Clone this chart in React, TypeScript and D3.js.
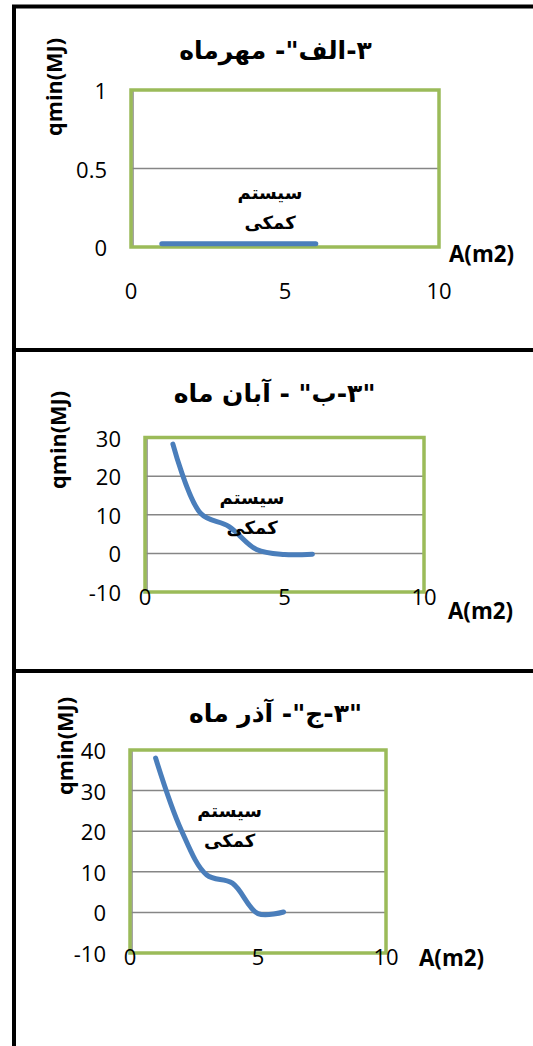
import React from "react";
import * as d3 from "d3";

// ---------- data ----------
const areaValues = [1, 2, 3, 4, 5, 6];
const mehrValues = [0.02, 0.02, 0.02, 0.02, 0.02, 0.02];
const abanValues = [28.3, 10.3, 7.0, 1.0, -0.3, -0.2];
const azarValues = [38, 20.3, 9.2, 7.2, -0.3, 0.1];

const xTickValues = [0, 5, 10];
const mehrYTicks = [0, 0.5, 1];
const abanYTicks = [-10, 0, 10, 20, 30];
const azarYTicks = [-10, 0, 10, 20, 30, 40];

const titles = ['۳-الف"- مهرماه', '"۳-ب" - آبان ماه', '"۳-ج"- آذر ماه'];
const annotationLines = ["سیستم", "کمکی"];
const yAxisTitle = "qmin(MJ)";
const xAxisTitle = "A(m2)";

const GREEN = "#9BBB59";
const BLUE = "#4A7EBB";
const GRID = "#868686";
const LATIN = "'Open Sans', sans-serif";
const ARABIC = "'DejaVu Sans', sans-serif";

type PanelProps = {
  id: string;
  ys: number[];
  yTicks: number[];
  title: string;
  box: { x0: number; x1: number; y0: number; y1: number };
  titlePos: [number, number];
  yTitlePos: [number, number];
  xLabelY: number;
  xTitlePos: [number, number];
  annPos: [number, number];
};

function Panel(p: PanelProps) {
  const { box } = p;
  const x = d3.scaleLinear().domain([0, 10]).range([box.x0, box.x1]);
  const y = d3
    .scaleLinear()
    .domain([p.yTicks[0], p.yTicks[p.yTicks.length - 1]])
    .range([box.y1, box.y0]);
  const line = d3
    .line<number>()
    .x((_, i) => x(areaValues[i]))
    .y((v) => y(v))
    .curve(d3.curveCatmullRom.alpha(0.5));
  const d = line(p.ys) || "";
  const clipId = "clip-" + p.id;
  return (
    <g>
      <defs>
        <clipPath id={clipId}>
          <rect x={box.x0 - 10} y={box.y0 - 10} width={box.x1 - box.x0 + 20} height={box.y1 - box.y0 + 10} />
        </clipPath>
      </defs>
      <text
        x={p.titlePos[0]}
        y={p.titlePos[1]}
        textAnchor="middle"
        dominantBaseline="central"
        direction="rtl"
        fontFamily={ARABIC}
        fontWeight="bold"
        fontSize={25}
      >
        {p.title}
      </text>
      <text
        transform={`translate(${p.yTitlePos[0]},${p.yTitlePos[1]}) rotate(-90)`}
        textAnchor="middle"
        dominantBaseline="central"
        fontFamily={LATIN}
        fontWeight="bold"
        fontSize={21}
        textLength={98}
        lengthAdjust="spacingAndGlyphs"
      >
        {yAxisTitle}
      </text>
      {/* gridlines */}
      {p.yTicks.map((t) => (
        <line key={"g" + t} x1={box.x0} x2={box.x1} y1={y(t)} y2={y(t)} stroke={GRID} strokeWidth={1.5} />
      ))}
      <line x1={box.x0 + 2} x2={box.x0 + 2} y1={box.y0} y2={box.y1} stroke={GRID} strokeWidth={1.5} />
      {/* plot border */}
      <rect
        x={box.x0}
        y={box.y0}
        width={box.x1 - box.x0}
        height={box.y1 - box.y0}
        fill="none"
        stroke={GREEN}
        strokeWidth={3.5}
      />
      {/* series */}
      <path
        d={d}
        fill="none"
        stroke={BLUE}
        strokeWidth={5}
        strokeLinecap="round"
        strokeLinejoin="round"
        clipPath={`url(#${clipId})`}
      />
      {/* y tick labels */}
      {p.yTicks.map((t) => (
        <text
          key={"y" + t}
          x={box.x0 - 24}
          y={y(t)}
          textAnchor="end"
          dominantBaseline="central"
          fontFamily={LATIN}
          fontSize={22}
        >
          {String(t)}
        </text>
      ))}
      {/* x tick labels */}
      {xTickValues.map((t) => (
        <text
          key={"x" + t}
          x={x(t)}
          y={p.xLabelY}
          textAnchor="middle"
          dominantBaseline="central"
          fontFamily={LATIN}
          fontSize={22}
        >
          {String(t)}
        </text>
      ))}
      <text
        x={p.xTitlePos[0]}
        y={p.xTitlePos[1]}
        dominantBaseline="central"
        fontFamily={LATIN}
        fontWeight="bold"
        fontSize={24}
        textLength={65}
        lengthAdjust="spacingAndGlyphs"
      >
        {xAxisTitle}
      </text>
      {annotationLines.map((s, i) => (
        <text
          key={"a" + i}
          x={p.annPos[0]}
          y={p.annPos[1] + i * 30}
          textAnchor="middle"
          dominantBaseline="central"
          direction="rtl"
          fontFamily={ARABIC}
          fontWeight="bold"
          fontSize={18}
        >
          {s}
        </text>
      ))}
    </g>
  );
}

export default function App() {
  return (
    <svg
      width={533}
      height={1046}
      style={{ position: "absolute", left: 0, top: 0, background: "#fff" }}
    >
      <rect x={0} y={0} width={533} height={1046} fill="#fff" />
      {/* frame */}
      <line x1={14} x2={14} y1={5} y2={1046} stroke="#000" strokeWidth={4} />
      <line x1={12} x2={533} y1={6.5} y2={6.5} stroke="#000" strokeWidth={4} />
      <line x1={12} x2={533} y1={350} y2={350} stroke="#000" strokeWidth={4} />
      <line x1={12} x2={533} y1={671} y2={671} stroke="#000" strokeWidth={4} />

      <Panel
        id="mehr"
        ys={mehrValues}
        yTicks={mehrYTicks}
        title={titles[0]}
        box={{ x0: 131, x1: 439, y0: 90, y1: 247 }}
        titlePos={[275.5, 50]}
        yTitlePos={[54, 87]}
        xLabelY={290}
        xTitlePos={[449, 252]}
        annPos={[270, 192]}
      />
      <Panel
        id="aban"
        ys={abanValues}
        yTicks={abanYTicks}
        title={titles[1]}
        box={{ x0: 145, x1: 424, y0: 437.5, y1: 592 }}
        titlePos={[274.6, 393]}
        yTitlePos={[58, 440]}
        xLabelY={596}
        xTitlePos={[448, 609]}
        annPos={[252, 497]}
      />
      <Panel
        id="azar"
        ys={azarValues}
        yTicks={azarYTicks}
        title={titles[2]}
        box={{ x0: 130, x1: 386, y0: 750, y1: 953 }}
        titlePos={[275.5, 713]}
        yTitlePos={[64.6, 746]}
        xLabelY={956}
        xTitlePos={[419, 956]}
        annPos={[229.6, 810]}
      />
    </svg>
  );
}
